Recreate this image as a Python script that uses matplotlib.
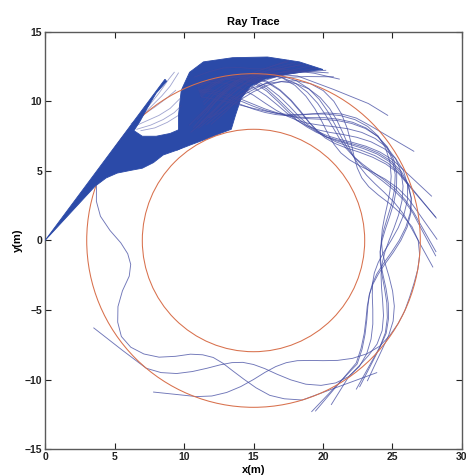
import numpy as np
import matplotlib as mpl
mpl.use('Agg')
import matplotlib.pyplot as plt
from matplotlib.patches import Circle, Polygon

# guide: two circles around one centre (m)
centre_x, centre_y = 15.0, 0.0
radii = [8.0, 12.0]

# dense part of the launched fan, outline (m)
wedge_x = [0, 3.6, 4.4, 5.2, 6.2, 7.0, 7.8, 8.5, 9.5, 9.9, 9.7, 9.0, 8.0, 7.0, 6.4, 6.85, 7.4, 8.0, 8.75, 8.63]
wedge_y = [0, 3.9, 4.5, 4.85, 5.05, 5.2, 5.6, 6.15, 6.5, 6.7, 8.0, 7.7, 7.5, 7.5, 7.9, 8.6, 9.6, 10.6, 11.45, 11.6]
bigfan_x = [9.5, 10.4, 11.6, 12.6, 13.4, 13.7, 14.1, 14.8, 15.8, 17.4, 19.1, 20.0, 18.3, 16.0, 13.5, 11.4, 10.4, 9.8, 9.6, 9.6]
bigfan_y = [6.5, 6.85, 7.3, 7.7, 8.0, 9.0, 10.2, 11.1, 11.6, 11.95, 12.2, 12.3, 12.85, 13.2, 13.15, 12.85, 12.1, 10.8, 9.0, 8.0]

# thin rays between the two dense parts (m)
hooks = [
    ([6.4, 7.3, 8.2, 9.0, 9.7], [8.2, 8.6, 9.0, 9.5, 10.2]),
    ([6.6, 7.6, 8.5, 9.3, 9.8], [8.0, 8.3, 8.7, 9.2, 9.7]),
    ([6.9, 7.9, 8.8, 9.6], [7.9, 8.1, 8.5, 9.0]),
    ([6.2, 7.0, 7.9, 8.7, 9.4], [8.4, 9.0, 9.6, 10.2, 10.8]),
    ([6.8, 7.6, 8.4, 9.0, 9.6], [8.8, 9.6, 10.4, 11.1, 12.05]),
    ([7.4, 8.2, 8.9, 9.3], [9.6, 10.6, 11.6, 12.1]),
]

# traced rays, read as radius (m) about the circle centre at these angles (deg),
# running clockwise from the fan; each ray then leaves in a straight tail
theta_deg = [110, 105, 100, 95, 90, 85, 80, 75, 70, 65, 60, 55, 50, 45, 40, 35, 30, 25, 20, 15, 10, 5, 0,
             -5, -10, -15, -20, -25, -30, -35, -40, -45, -50, -55, -60, -65, -70, -75, -80, -85, -90,
             -95, -100, -105, -110, -115, -120, -125, -130, -135, -140, -145, -150]

ray_t2 = [12.5, 12.55, 12.6, 12.5, 12.35, 12.4, 12.5, 12.6, 12.8]
tail_t2 = [(62, 13.15)]
ray_t3 = [10.4, 10.9, 11.3, 11.65, 11.88, 12.0, 12.1, 12.25]
tail_t3 = [(62, 12.3), (50, 12.86), (43, 13.2)]
ray_t4 = [11.4, 10.9, 10.3, 9.8, 9.45, 9.25, 9.2, 9.3, 9.6, 10.05, 10.6, 11.1, 11.5, 11.75]
tail_t4 = [(29.1, 13.2)]
ray_e1 = [11.7, 11.9, 12.0, 11.89, 11.58, 11.1, 10.55, 10.0, 9.52, 9.21, 9.1, 9.21, 9.52, 10.0, 10.55, 11.1, 11.58]
tail_e1 = [(14, 13.2)]
ray_e2 = [11.2, 11.6, 11.82, 11.9, 11.79, 11.48, 11.0, 10.45, 9.9, 9.42, 9.11, 9.0, 9.11, 9.42, 9.9, 10.45, 11.0, 11.48]
tail_e2 = [(7.4, 13.2)]
ray_e2b = [11.0, 11.45, 11.75, 11.85, 11.7, 11.4, 10.95, 10.4, 9.85, 9.4, 9.15, 9.1, 9.25, 9.6, 10.1, 10.65, 11.15, 11.55]
tail_e2b = [(7.0, 13.25)]
ray_e3 = [10.6, 11.1, 11.5, 11.8, 11.95, 12.0, 11.88, 11.55, 11.04, 10.45, 9.86, 9.35, 9.02, 8.9, 9.02, 9.35,
          9.86, 10.45, 11.04, 11.55]
tail_e3 = [(0.4, 13.2)]
ray_e4 = [9.8, 10.4, 11.0, 11.5, 11.8, 11.95, 12.0, 11.9, 11.62, 11.2, 10.7, 10.2, 9.78, 9.5, 9.4, 9.5, 9.78,
          10.2, 10.7, 11.2, 11.62]
tail_e4 = [(-4.8, 13.15)]
ray_e4b = [10.0, 10.6, 11.15, 11.6, 11.85, 11.95, 11.9, 11.7, 11.35, 10.9, 10.4, 9.95, 9.6, 9.4, 9.4, 9.58,
           9.9, 10.35, 10.85, 11.3, 11.7]
tail_e4b = [(-3.5, 13.15)]
ray_e5 = [9.4, 9.7, 10.1, 10.55, 11.0, 11.35, 11.6, 11.7, 11.61, 11.35, 10.96, 10.5, 10.04, 9.65, 9.39, 9.3,
          9.39, 9.65, 10.04, 10.5, 10.96, 11.35]
tail_e5 = [(-8.4, 13.04)]
ray_b1 = [11.0, 10.5, 10.1, 9.75, 9.5, 9.35, 9.3, 9.39, 9.65, 10.04, 10.5, 10.96, 11.35, 11.61, 11.7, 11.6,
          11.33, 10.93, 10.45, 9.97, 9.57, 9.3, 9.2, 9.31, 9.62, 10.1, 10.65, 11.18, 11.6, 11.88]
tail_b1 = [(-50.9, 13.0)]
ray_b2 = [11.6, 11.2, 10.7, 10.2, 9.8, 9.5, 9.35, 9.3, 9.39, 9.66, 10.06, 10.53, 10.99, 11.39, 11.66, 11.75,
          11.65, 11.37, 10.95, 10.45, 9.95, 9.53, 9.25, 9.15, 9.26, 9.57, 10.03, 10.58, 11.12, 11.58, 11.88]
tail_b2 = [(-55.3, 13.0)]
ray_b2b = [11.5, 11.05, 10.55, 10.05, 9.65, 9.4, 9.3, 9.3, 9.45, 9.75, 10.2, 10.65, 11.1, 11.45, 11.65, 11.7,
           11.55, 11.25, 10.8, 10.3, 9.8, 9.42, 9.2, 9.15, 9.3, 9.65, 10.15, 10.7, 11.22, 11.65, 11.9]
tail_b2b = [(-54, 13.0)]
ray_b3 = [11.9, 11.79, 11.48, 11.0, 10.45, 9.9, 9.5, 9.27, 9.2, 9.3, 9.58, 10.0, 10.5, 11.0, 11.42, 11.7, 11.8,
          11.71, 11.45, 11.06, 10.6, 10.14, 9.75, 9.49, 9.4, 9.5, 9.8, 10.25, 10.8, 11.3, 11.6, 11.7, 11.8, 11.95]
tail_b3 = [(-64.6, 13.06)]
ray_b4 = [11.3, 11.7, 11.9, 11.75, 11.35, 10.8, 10.15, 9.6, 9.2, 9.03, 9.0, 9.11, 9.42, 9.88, 10.43, 10.97,
          11.43, 11.74, 11.85, 11.75, 11.45, 11.0, 10.48, 9.95, 9.5, 9.2, 9.1, 9.2, 9.5, 9.95, 10.48, 11.05, 11.6]
tail_b4 = [(-71.2, 13.0)]
ray_b4b = [11.1, 11.55, 11.85, 11.8, 11.45, 10.95, 10.3, 9.75, 9.35, 9.12, 9.05, 9.1, 9.35, 9.78, 10.3, 10.85,
           11.32, 11.65, 11.8, 11.75, 11.5, 11.1, 10.6, 10.08, 9.62, 9.3, 9.15, 9.2, 9.45, 9.88, 10.4, 10.95, 11.5]
tail_b4b = [(-70, 13.05)]
ray_b5 = [9.4, 9.5, 9.78, 10.2, 10.7, 11.2, 11.62, 11.9, 12.0, 11.89, 11.56, 11.07, 10.5, 9.93, 9.44, 9.11, 9.0,
          9.15, 9.56, 10.17, 10.83, 11.44, 11.85, 12.0, 12.0, 11.95, 11.95, 12.0, 12.0, 11.95, 11.84, 11.53,
          11.07, 10.53, 9.98, 9.52, 9.2, 9.1, 9.21, 9.52, 10.0, 10.55, 11.1, 11.58, 11.95]
tail_b5 = [(-123.4, 13.06)]
ray_b6 = [11.85, 11.9, 11.8, 11.5, 11.0, 10.45, 9.9, 9.45, 9.17, 9.1, 9.2, 9.5, 9.96, 10.5, 11.04, 11.5, 11.8,
          11.9, 11.79, 11.48, 11.0, 10.45, 9.9, 9.42, 9.11, 9.0, 9.11, 9.43, 9.91, 10.48, 11.04, 11.52, 11.84,
          11.95, 11.83, 11.5, 11.0, 10.38, 9.77, 9.25, 8.92, 8.8, 8.92, 9.26, 9.78, 10.4, 11.05, 11.6, 12.0]
tail_b6 = [(-140, 12.3), (-151.3, 13.1)]

guided = [(ray_t2, tail_t2), (ray_t3, tail_t3), (ray_t4, tail_t4), (ray_e1, tail_e1), (ray_e2, tail_e2),
          (ray_e2b, tail_e2b), (ray_e3, tail_e3), (ray_e4, tail_e4), (ray_e4b, tail_e4b), (ray_e5, tail_e5),
          (ray_b1, tail_b1), (ray_b2, tail_b2), (ray_b2b, tail_b2b), (ray_b3, tail_b3), (ray_b4, tail_b4),
          (ray_b4b, tail_b4b), (ray_b5, tail_b5), (ray_b6, tail_b6)]

# the one ray that slips down the left side, anticlockwise: (angle deg, radius m)
left_ray = [(161, 11.95), (166, 11.65), (171, 11.15), (176, 10.35), (181, 9.55), (186, 9.1), (191, 9.0),
            (196, 9.3), (201, 10.1), (206, 10.85), (211, 11.4), (216, 11.75), (221, 11.7), (226, 11.35),
            (231, 10.8), (236, 10.05), (241, 9.35), (246, 9.0), (251, 8.9), (256, 9.1), (261, 9.5),
            (266, 10.0), (271, 10.6), (276, 11.2), (281, 11.6), (287, 12.0), (313, 13.0)]

# short rays leaving through the top of the fan: (angle deg, radius m)
feathers = [
    [(116, 9.0), (108, 9.4), (100, 10.2), (92, 11.2), (84, 12.0), (78, 12.5), (72, 13.2)],
    [(112, 9.0), (104, 9.5), (96, 10.4), (88, 11.4), (80, 12.1), (74, 12.6), (67, 13.3)],
    [(118, 9.2), (110, 9.8), (102, 10.8), (94, 11.8), (86, 12.4), (79, 13.2)],
    [(114, 9.3), (106, 9.9), (98, 10.9), (90, 11.7), (84, 12.1), (76, 12.5), (70, 13.2)],
    [(120, 9.0), (112, 9.3), (104, 10.0), (96, 11.0), (90, 11.7), (82, 12.4), (75, 13.1)],
    [(110, 8.9), (102, 9.5), (94, 10.5), (86, 11.3), (80, 11.9), (72, 12.4), (64, 13.1)],
    [(115, 9.6), (107, 10.2), (99, 11.0), (91, 11.8), (84, 12.4), (77, 13.1)],
    [(119, 9.5), (111, 10.0), (103, 10.7), (95, 11.5), (88, 12.1), (80, 12.6), (74, 13.2)],
    [(113, 9.8), (105, 10.6), (97, 11.5), (90, 12.1), (83, 12.7), (79, 13.1)],
    [(117, 9.1), (109, 9.6), (101, 10.4), (93, 11.3), (86, 11.9), (79, 12.4), (70, 12.9), (66, 13.2)],
]

blue = '#2b4aa8'
ray_col = '#3f48a0'
red = '#d8704c'

plt.rcParams['font.family'] = ['Liberation Sans', 'DejaVu Sans']
plt.rcParams['font.weight'] = 'bold'

fig = plt.figure(figsize=(4.66, 4.75), dpi=100)
ax = fig.add_axes([0.0966, 0.0547, 0.8948, 0.878])


def draw_polar(t, r, **kw):
    t = np.radians(np.asarray(t, dtype=float))
    r = np.asarray(r, dtype=float)
    ax.plot(centre_x + r * np.cos(t), centre_y + r * np.sin(t), **kw)


ray_kw = dict(color=ray_col, lw=0.65, alpha=0.75, zorder=2.5)

ax.add_patch(Polygon(np.column_stack([bigfan_x, bigfan_y]), closed=True,
                     facecolor=blue, edgecolor=blue, lw=0.6, zorder=2))
for r_vals, tail in guided:
    t = theta_deg[:len(r_vals)] + [p[0] for p in tail]
    r = r_vals + [p[1] for p in tail]
    draw_polar(t, r, **ray_kw)
draw_polar([p[0] for p in left_ray], [p[1] for p in left_ray], **ray_kw)
for f in feathers:
    draw_polar([p[0] for p in f], [p[1] for p in f], **ray_kw)
for hx, hy in hooks:
    ax.plot(hx, hy, color=ray_col, lw=0.6, alpha=0.5, zorder=2.5)
for rad in radii:
    ax.add_patch(Circle((centre_x, centre_y), rad, fill=False, edgecolor=red, lw=0.75, zorder=3))
ax.add_patch(Polygon(np.column_stack([wedge_x, wedge_y]), closed=True,
                     facecolor=blue, edgecolor=blue, lw=0.6, zorder=4))

ax.set_xlim(0, 30)
ax.set_ylim(-15, 15)
ax.set_xticks(range(0, 31, 5))
ax.set_yticks(range(-15, 16, 5))
ax.tick_params(direction='in', length=4, width=0.8, top=True, right=True,
               labelsize=7.5, pad=2, colors='#222222')
for s in ax.spines.values():
    s.set_color('#5a5a5a')
    s.set_linewidth(1.0)
ax.set_title('Ray Trace', fontsize=8, fontweight='bold', pad=5)
ax.set_xlabel('x(m)', fontsize=8, fontweight='bold', labelpad=2)
ax.set_ylabel('y(m)', fontsize=8, fontweight='bold', labelpad=1)

fig.savefig('out.png', dpi=100)
